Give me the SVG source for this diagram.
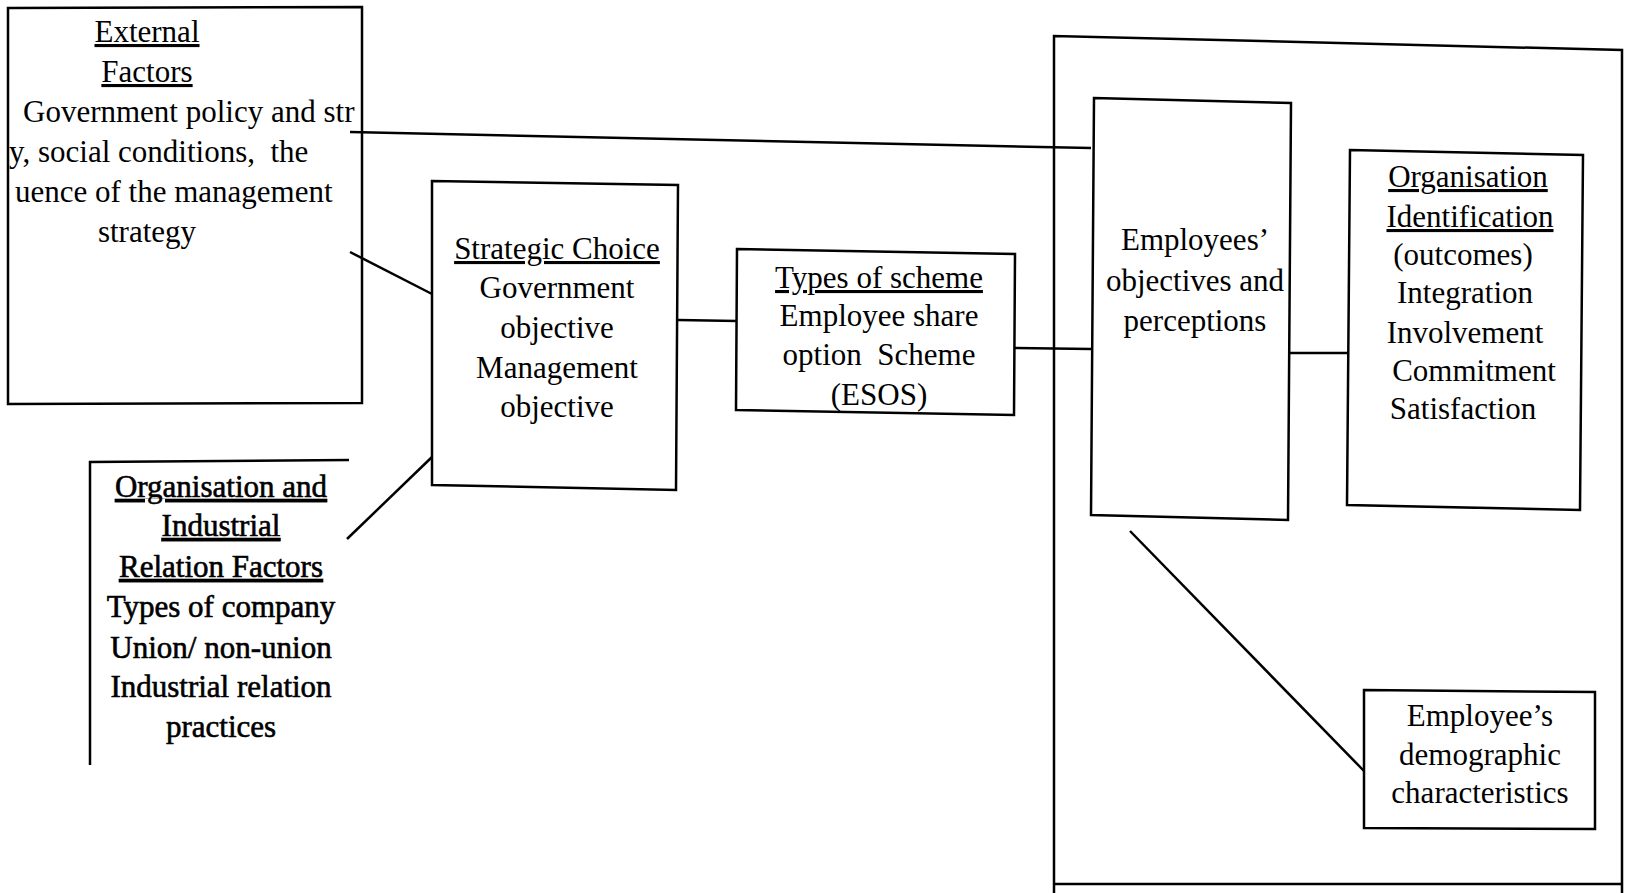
<svg xmlns="http://www.w3.org/2000/svg" width="1625" height="893" viewBox="0 0 1625 893">
<style>
  .box { fill: none; stroke: #000; stroke-width: 2.5; }
  .ln { fill: none; stroke: #000; stroke-width: 2.5; }
  text { font-family: "Liberation Serif", "Times New Roman", serif; font-size: 31px; fill: #000; white-space: pre; }
  .c { text-anchor: middle; }
  .u { text-decoration: underline; }
  .b { stroke: #000; stroke-width: 0.6; }
</style>
<rect width="1625" height="893" fill="#fff"/>

<g id="connectors">
  <line class="ln" x1="350" y1="132" x2="1091" y2="148"/>
  <line class="ln" x1="350" y1="252" x2="432" y2="294"/>
  <line class="ln" x1="347" y1="539" x2="432" y2="457"/>
  <line class="ln" x1="678" y1="320" x2="737" y2="321"/>
  <line class="ln" x1="1015" y1="348" x2="1091" y2="349"/>
  <line class="ln" x1="1290" y1="353" x2="1348" y2="353"/>
  <line class="ln" x1="1130" y1="531" x2="1364" y2="771"/>
</g>

<g id="external-factors">
  <path class="box" d="M8,8 L362,7 L362,403 L8,404 Z"/>
  <text class="c u" x="147" y="42">External</text>
  <text class="c u" x="147" y="82">Factors</text>
  <text x="23" y="122">Government policy and str</text>
  <text x="9" y="162" xml:space="preserve">y, social conditions,  the</text>
  <text x="15" y="202">uence of the management</text>
  <text class="c" x="147" y="242">strategy</text>
</g>

<g id="org-industrial">
  <path class="box" d="M90,765 L90,462 L349,460"/>
  <text class="c u b" x="221" y="497">Organisation and</text>
  <text class="c u b" x="221" y="536">Industrial</text>
  <text class="c u b" x="221" y="577">Relation Factors</text>
  <text class="c b" x="221" y="617">Types of company</text>
  <text class="c b" x="221" y="658">Union/ non-union</text>
  <text class="c b" x="221" y="697">Industrial relation</text>
  <text class="c b" x="221" y="737">practices</text>
</g>

<g id="strategic-choice">
  <path class="box" d="M432,181 L678,185 L676,490 L432,485 Z"/>
  <text class="c u" x="557" y="259">Strategic Choice</text>
  <text class="c" x="557" y="298">Government</text>
  <text class="c" x="557" y="338">objective</text>
  <text class="c" x="557" y="378">Management</text>
  <text class="c" x="557" y="417">objective</text>
</g>

<g id="types-of-scheme">
  <path class="box" d="M737,249 L1015,254 L1014,415 L736,410 Z"/>
  <text class="c u" x="879" y="288">Types of scheme</text>
  <text class="c" x="879" y="326">Employee share</text>
  <text class="c" x="879" y="365" xml:space="preserve">option  Scheme</text>
  <text class="c" x="879" y="405">(ESOS)</text>
</g>

<g id="employee-context">
  <path class="box" d="M1054,893 L1054,36 L1622,50 L1622,893"/>
  <line class="ln" x1="1054" y1="884" x2="1622" y2="884"/>
</g>

<g id="employees-objectives">
  <path class="box" d="M1094,98 L1291,103 L1288,520 L1091,515 Z"/>
  <text class="c" x="1195" y="250">Employees’</text>
  <text class="c" x="1195" y="291">objectives and</text>
  <text class="c" x="1195" y="331">perceptions</text>
</g>

<g id="organisation-identification">
  <path class="box" d="M1350,150 L1583,155 L1580,510 L1347,505 Z"/>
  <text class="c u" x="1468" y="187">Organisation</text>
  <text class="c u" x="1470" y="227">Identification</text>
  <text class="c" x="1463" y="265">(outcomes)</text>
  <text class="c" x="1465" y="303">Integration</text>
  <text class="c" x="1465" y="343">Involvement</text>
  <text class="c" x="1474" y="381">Commitment</text>
  <text class="c" x="1463" y="419">Satisfaction</text>
</g>

<g id="demographic">
  <path class="box" d="M1364,690 L1595,692 L1595,829 L1364,828 Z"/>
  <text class="c" x="1480" y="726">Employee’s</text>
  <text class="c" x="1480" y="765">demographic</text>
  <text class="c" x="1480" y="803">characteristics</text>
</g>
</svg>
